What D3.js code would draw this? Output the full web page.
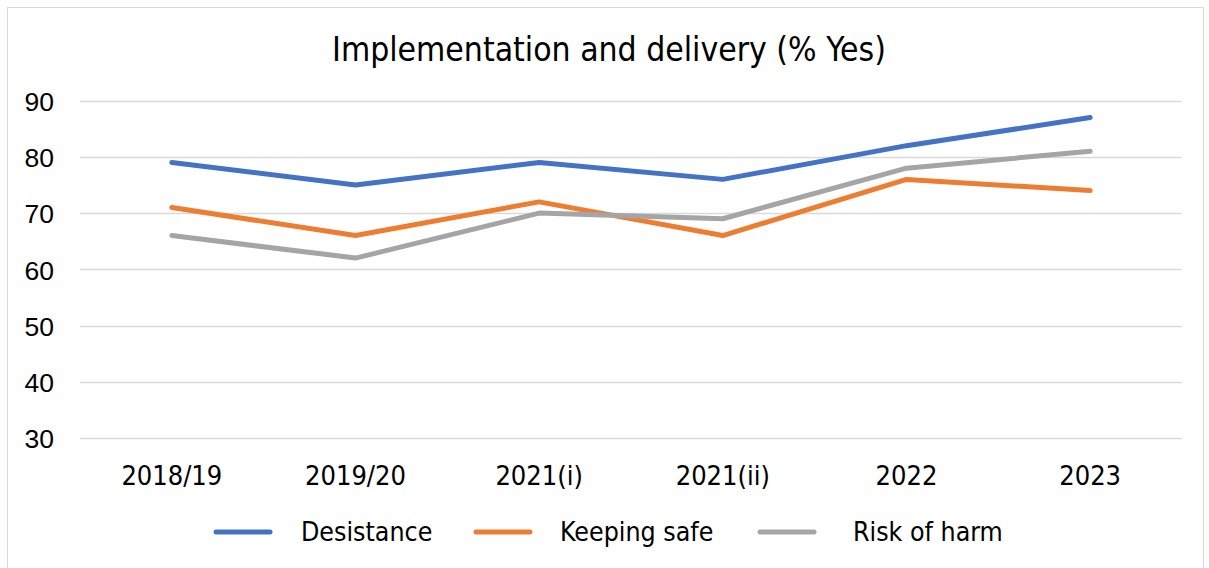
<!DOCTYPE html>
<html>
<head>
<meta charset="utf-8">
<script src="https://cdn.jsdelivr.net/npm/d3@7"></script>
<style>
  html, body { margin: 0; padding: 0; background: #fff; }
  svg { display: block; }
  .cond { font-family: "DejaVu Sans Condensed", "DejaVu Sans", sans-serif; font-stretch: condensed; }
</style>
</head>
<body>
<svg id="chart" width="1209" height="568"></svg>
<script>
// Survey periods and "% Yes" per theme
const categories = ["2018/19", "2019/20", "2021(i)", "2021(ii)", "2022", "2023"];
const desistance = [79, 75, 79, 76, 82, 87];
const keepingSafe = [71, 66, 72, 66, 76, 74];
const riskOfHarm = [66, 62, 70, 69, 78, 81];
const yTicks = [30, 40, 50, 60, 70, 80, 90];
const seriesNames = ["Desistance", "Keeping safe", "Risk of harm"];

const series = [
  { name: seriesNames[0], values: desistance, color: "#4472C4" },
  { name: seriesNames[1], values: keepingSafe, color: "#ED7D31" },
  { name: seriesNames[2], values: riskOfHarm, color: "#A5A5A5" }
];

const plot = { left: 80, right: 1182, top: 100.7, bottom: 437.9 };

const svg = d3.select("#chart");

// chart frame
svg.append("rect")
  .attr("x", 7.5).attr("y", 7.5)
  .attr("width", 1196).attr("height", 580)
  .attr("fill", "none").attr("stroke", "#D9D9D9").attr("stroke-width", 1);

const x = d3.scaleBand().domain(categories).range([plot.left, plot.right]).padding(0);
const y = d3.scaleLinear().domain([30, 90]).range([plot.bottom, plot.top]);

// title
svg.append("text")
  .attr("class", "cond")
  .attr("x", 609).attr("y", 61)
  .attr("text-anchor", "middle")
  .attr("font-size", 33.4)
  .attr("fill", "#000")
  .text("Implementation and delivery (% Yes)");

// horizontal gridlines
svg.append("g")
  .selectAll("line")
  .data(yTicks)
  .join("line")
  .attr("x1", plot.left).attr("x2", plot.right)
  .attr("y1", d => Math.round(y(d)) + 0.5).attr("y2", d => Math.round(y(d)) + 0.5)
  .attr("stroke", "#D9D9D9").attr("stroke-width", 1.5);

// y axis labels
const yAxis = d3.axisLeft(y).tickValues(yTicks).tickSize(0).tickPadding(0);
const gy = svg.append("g")
  .attr("transform", `translate(${plot.left - 26},0)`)
  .call(yAxis);
gy.select(".domain").remove();
gy.selectAll("text")
  .attr("font-family", "'Liberation Sans', Arial, sans-serif")
  .attr("font-size", 26.5)
  .attr("fill", "#000")
  .attr("dy", "0.37em");

// x axis labels
const xAxis = d3.axisBottom(x).tickSize(0).tickPadding(0);
const gx = svg.append("g")
  .attr("transform", `translate(0,484.5)`)
  .call(xAxis);
gx.select(".domain").remove();
gx.selectAll("text")
  .attr("class", "cond")
  .attr("font-size", 27)
  .attr("fill", "#000")
  .attr("dy", 0);

// series lines
const line = d3.line()
  .x((d, i) => x(categories[i]) + x.bandwidth() / 2)
  .y(d => y(d));

svg.append("g")
  .selectAll("path")
  .data(series)
  .join("path")
  .attr("d", d => line(d.values))
  .attr("fill", "none")
  .attr("stroke", d => d.color)
  .attr("stroke-width", 5)
  .attr("stroke-linejoin", "round")
  .attr("stroke-linecap", "round");

// legend: swatch start and label start for each entry
const legendLineX = [216, 476, 760];
const legendTextX = [301, 560, 853];
const legend = svg.append("g").attr("transform", "translate(0,532)");
const items = legend.selectAll("g")
  .data(series)
  .join("g");
items.append("line")
  .attr("x1", (d, i) => legendLineX[i]).attr("x2", (d, i) => legendLineX[i] + 54)
  .attr("y1", 0).attr("y2", 0)
  .attr("stroke", d => d.color)
  .attr("stroke-width", 5)
  .attr("stroke-linecap", "round");
items.append("text")
  .attr("class", "cond")
  .attr("x", (d, i) => legendTextX[i]).attr("y", 9)
  .attr("font-size", 26.5)
  .attr("fill", "#000")
  .text(d => d.name);
</script>
</body>
</html>
